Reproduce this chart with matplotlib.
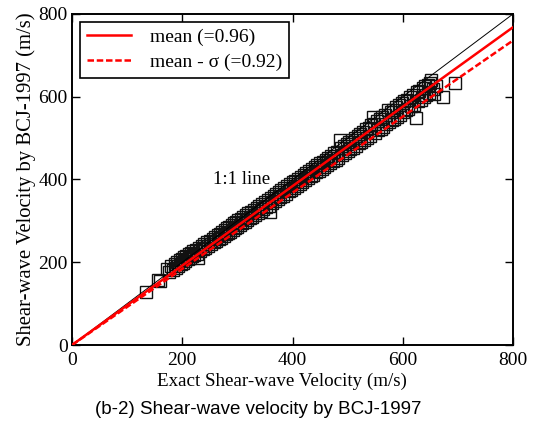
import matplotlib
matplotlib.use("Agg")
import matplotlib.pyplot as plt
from matplotlib.lines import Line2D

# ---- data ----
exact_vs = [134, 156, 160, 172, 176, 180, 183, 186, 188, 190, 193, 195, 197, 199, 201, 203, 205, 207, 210, 212,
            214, 216, 218, 220, 222, 225, 227, 229, 230, 233, 235, 238, 240, 242, 245, 247, 250,
            252, 255, 257, 260, 262, 264, 266, 268, 270, 272, 275, 277, 279, 281, 283, 285, 287, 290, 292, 294,
            296, 298, 300, 302, 304, 306, 308, 310, 313, 315, 317, 320, 322, 325, 327, 330, 332, 335, 337, 340,
            342, 345, 347, 350,
            352, 355, 357, 359, 361, 363, 366, 368, 370, 373, 375, 378, 380, 383, 385, 388, 390, 393, 395, 398,
            400, 402, 405, 408, 410, 413, 415, 418, 420, 423, 425, 428, 430, 433, 435, 438, 440, 443, 445, 448, 450,
            453, 455, 458, 460, 463, 465, 468, 470, 473, 475, 478, 480, 483, 486, 488, 490, 493, 495, 498, 500,
            503, 505, 508, 510, 513, 515, 518, 520, 523, 525, 528, 530, 533, 535, 538, 540, 543, 546, 548, 550,
            553, 555, 558, 560, 563, 565, 568, 570, 573, 575, 578, 580, 583, 585, 588, 590, 593, 595, 598, 600,
            603, 605, 608, 610, 613, 615, 618, 620, 624, 626, 628, 630, 633, 636, 638, 640, 643, 645, 648, 650,
            652, 655, 657, 660, 673, 695]
bcj_vs = [128, 157, 155, 184, 176, 190, 182, 196, 186, 200, 192, 205, 195, 208, 199, 212, 203, 215, 207, 219,
          211, 223, 214, 226, 217, 230, 221, 210, 234, 226, 240, 231, 244, 235, 249, 239, 252,
          243, 257, 248, 261, 251, 265, 255, 269, 258, 273, 264, 278, 268, 282, 270, 285, 274, 291, 278, 294,
          283, 298, 286, 301, 290, 305, 294, 309, 298, 314, 302, 318, 306, 322, 310, 327, 314, 332, 319, 337,
          323, 341, 328, 345,
          333, 350, 337, 321, 355, 343, 361, 347, 365, 353, 369, 357, 374, 361, 379, 365, 384, 371, 389, 375,
          393, 379, 397, 385, 402, 389, 407, 393, 411, 398, 416, 403, 421, 408, 425, 412, 430, 417, 435, 421, 439,
          425, 443, 431, 447, 435, 453, 439, 457, 444, 463, 448, 467, 453, 495, 475, 459, 481, 465, 486, 469,
          491, 473, 495, 477, 501, 482, 505, 487, 511, 491, 515, 495, 521, 500, 525, 505, 531, 551, 535, 513,
          541, 519, 545, 523, 551, 528, 555, 533, 568, 539, 563, 543, 569, 547, 575, 552, 579, 557, 585, 563,
          589, 567, 593, 571, 599, 577, 603, 581, 548, 611, 589, 615, 593, 621, 599, 625, 605, 629, 609, 633,
          640, 619, 607, 627, 599, 633]

line_ends = [0, 800]
mean_ratio = 0.96
mean_minus_sigma_ratio = 0.92
ticks = [0, 200, 400, 600, 800]

serif = ["Liberation Serif", "DejaVu Serif"]
FS = 14
DASH = (0, (2.6, 1.1))

fig = plt.figure(figsize=(5.39, 4.29), dpi=100)
ax = fig.add_axes([0.1336, 0.1958, 0.8182, 0.7716])

ax.plot(exact_vs, bcj_vs, linestyle="none", marker="s", markersize=8.2,
        markerfacecolor="none", markeredgecolor="#111111", markeredgewidth=1.0, zorder=2)

ax.plot(line_ends, line_ends, color="black", linewidth=0.7, zorder=3)
ax.plot(line_ends, [v * mean_ratio for v in line_ends], color="red", linewidth=1.8, zorder=4)
ax.plot(line_ends, [v * mean_minus_sigma_ratio for v in line_ends], color="red", linewidth=1.8,
        linestyle=DASH, zorder=4)

ax.text(256, 400, "1:1 line", fontfamily=serif, fontsize=13.5, va="center", ha="left")

ax.set_xlim(0, 800)
ax.set_ylim(0, 800)
ax.set_xticks(ticks)
ax.set_yticks(ticks)
ax.tick_params(direction="in", length=6, width=1, top=True, right=True, labelsize=FS)
ax.tick_params(axis="x", pad=5)
ax.tick_params(axis="y", pad=3)
for lab in ax.get_xticklabels() + ax.get_yticklabels():
    lab.set_fontfamily(serif)
for s in ax.spines.values():
    s.set_linewidth(1.4)

ax.set_xlabel("Exact Shear-wave Velocity (m/s)", fontfamily=serif, fontsize=13.7, labelpad=3)
ax.xaxis.label.set_x(0.476)
ax.set_ylabel("Shear-wave Velocity by BCJ-1997 (m/s)", fontfamily=serif, fontsize=14.9, labelpad=2)

handles = [Line2D([], [], color="red", linewidth=1.8),
           Line2D([], [], color="red", linewidth=1.8, linestyle=DASH)]
leg = ax.legend(handles, ["mean (=0.96)", "mean - \u03c3 (=0.92)"], loc="upper left",
                prop={"family": serif, "size": 14}, fancybox=False, framealpha=1,
                edgecolor="black", borderaxespad=0.4, handlelength=2.3, handletextpad=0.95,
                labelspacing=0.35, borderpad=0.35)
leg.get_frame().set_linewidth(1.2)

fig.text(0.48, 0.025, "(b-2) Shear-wave velocity by BCJ-1997", fontfamily=["Liberation Sans", "DejaVu Sans"],
         fontsize=13.5, ha="center", va="bottom")

fig.savefig("out.png", dpi=100, facecolor="white")
